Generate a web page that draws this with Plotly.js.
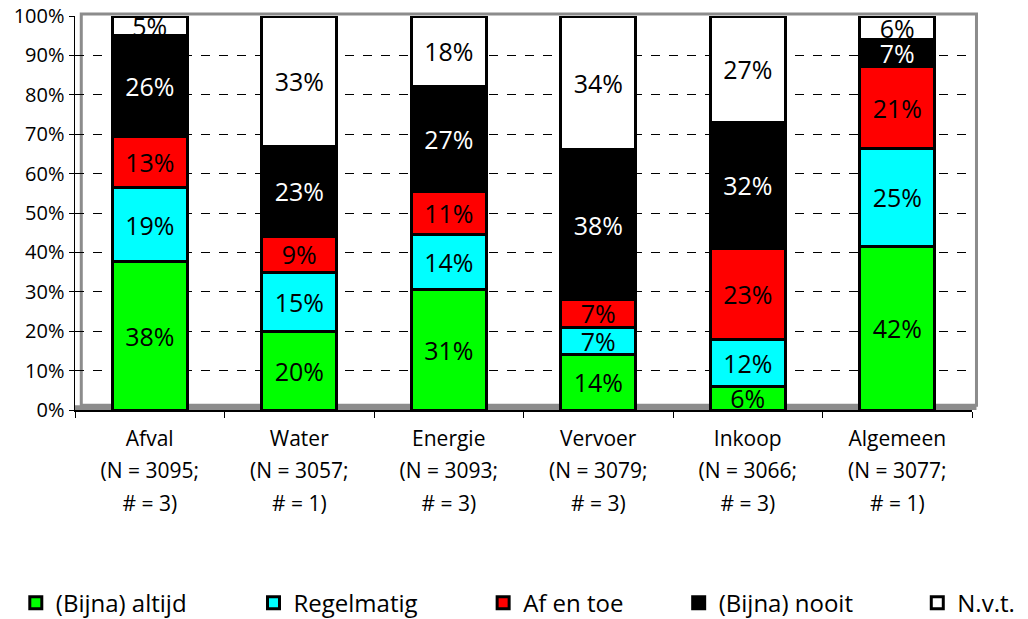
<!DOCTYPE html>
<html>
<head>
<meta charset="utf-8">
<script src="https://cdn.plot.ly/plotly-3.0.1.min.js"></script>
<style>html,body{margin:0;padding:0;background:#fff;}#chart{width:1028px;height:619px;}</style>
</head>
<body>
<div id="chart"></div>
<script>
const categories = ["Afval", "Water", "Energie", "Vervoer", "Inkoop", "Algemeen"];
const nValues = [3095, 3057, 3093, 3079, 3066, 3077];
const hashValues = [3, 1, 3, 3, 3, 1];
const seriesNames = ["(Bijna) altijd", "Regelmatig", "Af en toe", "(Bijna) nooit", "N.v.t."];
const bijnaAltijd = [38, 20, 31, 14, 6, 42];
const regelmatig  = [19, 15, 14, 7, 12, 25];
const afEnToe     = [13, 9, 11, 7, 23, 21];
const bijnaNooit  = [26, 23, 27, 38, 32, 7];
const nvt         = [5, 33, 18, 34, 27, 6];
const seriesValues = [bijnaAltijd, regelmatig, afEnToe, bijnaNooit, nvt];
const colors = ["#00ff00", "#00ffff", "#ff0000", "#000000", "#ffffff"];
const textColors = ["#000", "#000", "#000", "#fff", "#000"];

const FONT = "'Open Sans', Lato, sans-serif";
const sp = s => '<span style="font-size:21px">' + s + '</span>';
const tickLabels = categories.map((c, i) =>
  sp(c) + "<br>" + sp("(N = " + nValues[i] + ";") + "<br>" + sp("# = " + hashValues[i] + ")"));

const legendIds = ["legend", "legend2", "legend3", "legend4", "legend5"];
const legendX = [-0.066, 0.199, 0.455, 0.673, 0.939];

const traces = seriesValues.map((vals, i) => ({
  type: "bar",
  name: seriesNames[i],
  legend: legendIds[i],
  x: categories,
  y: vals,
  text: vals.map(v => v + "%"),
  textposition: "inside",
  insidetextanchor: "middle",
  textangle: 0,
  constraintext: "none",
  insidetextfont: {family: FONT, size: 25, color: textColors[i]},
  hoverinfo: "name+y",
  marker: {color: colors[i], line: {color: "#000", width: 3}}
}));

const layout = {
  width: 1028, height: 619,
  margin: {l: 75, r: 56, t: 16, b: 209, autoexpand: false},
  paper_bgcolor: "#fff",
  plot_bgcolor: "rgba(0,0,0,0)",
  barmode: "stack",
  barnorm: "percent",
  bargap: 0.5,
  showlegend: true,
  uniformtext: {minsize: 25, mode: "show"},
  font: {family: FONT, color: "#000"},
  xaxis: {
    type: "category",
    automargin: false,
    tickvals: categories,
    ticktext: tickLabels,
    tickson: "boundaries",
    ticks: "outside",
    ticklen: 6,
    tickcolor: "#000",
    ticklabelstandoff: 4,
    showline: true,
    linecolor: "#000",
    linewidth: 1.5,
    showgrid: false,
    tickfont: {family: FONT, size: 25, color: "#000"},
    fixedrange: true
  },
  yaxis: {
    automargin: false,
    range: [0, 100],
    tickvals: [0,10,20,30,40,50,60,70,80,90,100],
    ticktext: ["0%","10%","20%","30%","40%","50%","60%","70%","80%","90%","100%"],
    ticks: "outside",
    ticklen: 5,
    tickcolor: "#000",
    showline: true,
    linecolor: "#000",
    linewidth: 1.5,
    showgrid: true,
    gridcolor: "#000",
    griddash: "dash",
    gridwidth: 1,
    zeroline: false,
    tickfont: {family: FONT, size: 20, color: "#000"},
    fixedrange: true
  },
  shapes: [
    {type: "rect", xref: "paper", yref: "paper", x0: 0.007, x1: 1.005, y0: 0.012, y1: 1.005,
     line: {color: "#8c8c8c", width: 3}, layer: "below"},
    {type: "rect", xref: "paper", yref: "paper", x0: 0.0, x1: 1.005, y0: 0.0, y1: 0.012,
     fillcolor: "#8c8c8c", line: {width: 0}, layer: "below"}
  ]
};
legendIds.forEach((id, i) => {
  layout[id] = {
    orientation: "h",
    x: legendX[i], xanchor: "left",
    y: -0.49, yanchor: "middle",
    font: {family: FONT, size: 24, color: "#000"},
    itemwidth: 30,
    bgcolor: "rgba(0,0,0,0)"
  };
});

Plotly.newPlot("chart", traces, layout, {displayModeBar: false, staticPlot: true});
</script>
</body>
</html>
